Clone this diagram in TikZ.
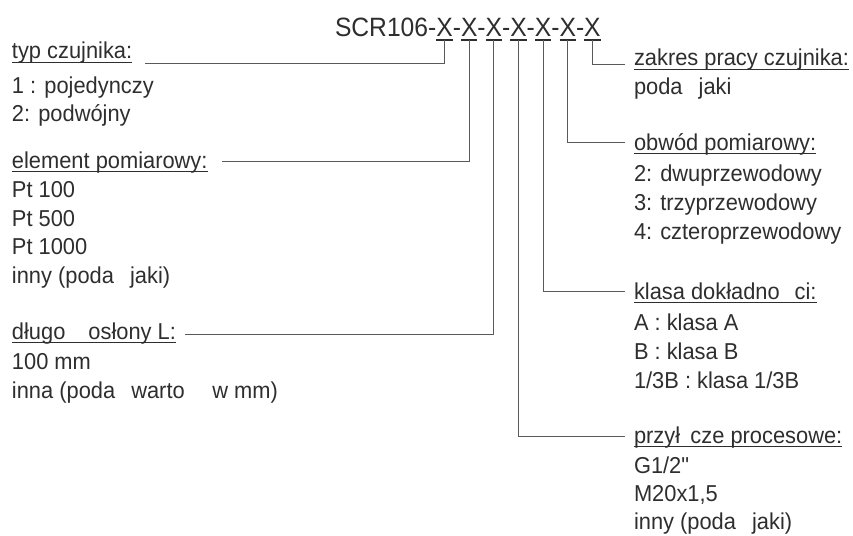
\documentclass[tikz,border=0pt]{standalone}
\usepackage{fontspec}
\newfontfamily\bodyfont[FakeStretch=0.95]{Liberation Sans}
\newfontfamily\titlefont[FakeStretch=0.93]{Liberation Sans}
\definecolor{txt}{HTML}{2E2E2E}
\definecolor{ln}{HTML}{5A5A5A}
\begin{document}
\begin{tikzpicture}[x=1pt,y=-1pt,
  lbl/.style={anchor=base west,inner sep=0pt,outer sep=0pt,text=txt,font=\bodyfont\fontsize{23}{27}\selectfont},
  ttl/.style={anchor=base west,inner sep=0pt,outer sep=0pt,text=txt,font=\titlefont\fontsize{26.5}{31}\selectfont},
  conn/.style={draw=ln,line width=0.9pt},
  uline/.style={draw=txt,line width=1.4pt}]
\useasboundingbox (0,0) rectangle (853,535);
% title
\node[ttl] (t0) at (335,37) {SCR106-};
\node[ttl] (x1) at (t0.base east) {X};
\node[ttl] (d1) at (x1.base east) {-};
\node[ttl] (x2) at (d1.base east) {X};
\node[ttl] (d2) at (x2.base east) {-};
\node[ttl] (x3) at (d2.base east) {X};
\node[ttl] (d3) at (x3.base east) {-};
\node[ttl] (x4) at (d3.base east) {X};
\node[ttl] (d4) at (x4.base east) {-};
\node[ttl] (x5) at (d4.base east) {X};
\node[ttl] (d5) at (x5.base east) {-};
\node[ttl] (x6) at (d5.base east) {X};
\node[ttl] (d6) at (x6.base east) {-};
\node[ttl] (x7) at (d6.base east) {X};
\foreach \i in {1,...,7}{
  \draw[uline] ([yshift=-3pt]x\i.base west) -- ([yshift=-3pt]x\i.base east);
  \coordinate (u\i) at ([yshift=-3pt]x\i.base);
}
% left groups
\node[lbl] (h1) at (12,59) {typ czujnika:};
\node[lbl] (h1a) at (12,93) {1 : pojedynczy};
\node[lbl] (h1b) at (12,121) {2: podwójny};
\node[lbl] (h2) at (12,168) {element pomiarowy:};
\node[lbl] (h2a) at (12,197) {Pt 100};
\node[lbl] (h2b) at (12,226) {Pt 500};
\node[lbl] (h2c) at (12,254) {Pt 1000};
\node[lbl] (h2d) at (12,283) {inny (poda\hspace{0.7em}jaki)};
\node[lbl] (h3) at (12,339) {długo\hspace{1.0em}osłony L:};
\node[lbl] (h3a) at (12,369) {100 mm};
\node[lbl] (h3b) at (12,398) {inna (poda\hspace{0.7em}warto\hspace{1.2em}w mm)};
% right groups
\node[lbl] (h7) at (634,66) {zakres pracy czujnika:};
\node[lbl] (h7a) at (634,94) {poda\hspace{0.7em}jaki};
\node[lbl] (h6) at (634,150) {obwód pomiarowy:};
\node[lbl] (h6a) at (634,181) {2: dwuprzewodowy};
\node[lbl] (h6b) at (634,210) {3: trzyprzewodowy};
\node[lbl] (h6c) at (634,239) {4: czteroprzewodowy};
\node[lbl] (h5) at (634,299) {klasa dokładno\hspace{0.65em}ci:};
\node[lbl] (h5a) at (634,330) {A : klasa A};
\node[lbl] (h5b) at (634,359) {B : klasa B};
\node[lbl] (h5c) at (634,388) {1/3B : klasa 1/3B};
\node[lbl] (h4) at (634,443) {przył\hspace{0.45em}cze procesowe:};
\node[lbl] (h4a) at (634,473) {G1/2"};
\node[lbl] (h4b) at (634,501) {M20x1,5};
\node[lbl] (h4c) at (634,529) {inny (poda\hspace{0.7em}jaki)};
% header underlines
\foreach \h in {h1,h2,h3,h4,h5,h6,h7}{
  \draw[uline] ([yshift=-3.5pt]\h.base west) -- ([yshift=-3.5pt]\h.base east);
}
% connectors
\coordinate (c1) at (145,63);
\coordinate (c2) at (222,161);
\coordinate (c3) at (185,334);
\coordinate (c4) at (625,436);
\coordinate (c5) at (625,291);
\coordinate (c6) at (625,142);
\coordinate (c7) at (625,64);
\foreach \i in {1,...,7}{
  \draw[conn] (u\i) |- (c\i);
}
\end{tikzpicture}
\end{document}
